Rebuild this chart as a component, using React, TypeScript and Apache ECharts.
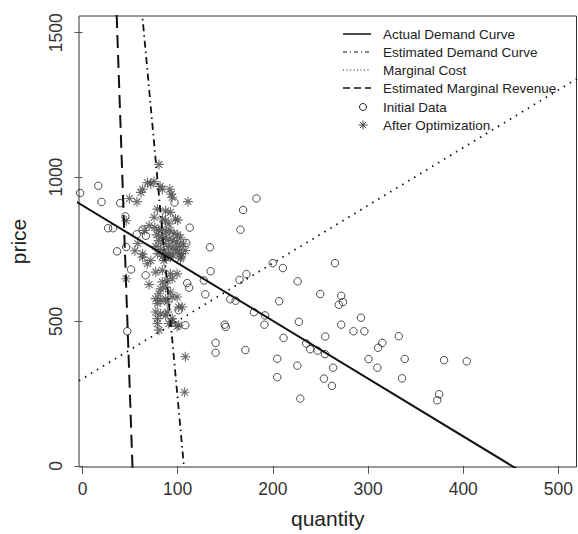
import React, { useEffect, useRef } from 'react';
import * as echarts from 'echarts';

const xTicks = [0, 100, 200, 300, 400, 500];
const yTicks = [0, 500, 1000, 1500];

// line endpoints [quantity, price]
const actualDemand = [[-10, 922], [470, -38]];
const estimatedDemand = [[58.9, 1700], [109.3, -100]];
const marginalCost = [[-10, 282], [540, 1382]];
const estimatedMR = [[34.4, 1700], [53.5, -100]];

const initialData = [
  [-2.5, 945], [16.6, 970], [20, 914], [39.6, 910], [45, 864], [26.9, 823], [32.1, 823],
  [45.9, 758], [36.3, 743], [57, 802], [63.1, 818], [66.6, 797], [112.6, 825], [51, 680],
  [66.3, 660], [110, 633], [112, 617], [127.5, 642], [129, 594], [96.6, 912], [109, 772],
  [108, 487], [47, 466], [101, 539],
  [182.8, 926], [168.7, 886], [165.9, 818], [133.9, 757], [134.6, 674], [164.9, 644],
  [172.2, 664], [199.8, 702], [210.5, 685], [265.3, 702], [226, 639], [249.8, 595],
  [269.3, 558], [273.6, 567], [271.8, 589], [271.8, 489], [155.3, 577], [160.8, 572],
  [206.6, 570], [180.1, 532], [191.8, 521], [191.1, 489], [149.4, 489], [150.4, 481],
  [139.8, 426], [139.8, 392], [171.1, 401], [227.3, 499], [211.2, 443], [235, 424],
  [239.1, 404], [247, 399], [254.7, 387], [255, 448], [204.6, 371], [204.6, 307],
  [225.7, 347], [263.3, 340], [253.6, 302], [262, 277], [228.8, 233],
  [292.6, 513], [284.7, 466], [296.1, 466], [332.3, 449], [315, 426], [310.6, 409],
  [300.5, 370], [309.8, 340], [338.5, 370], [335.7, 303], [379.9, 366], [403.7, 362],
  [374.7, 248], [372.7, 227],
];

const afterOptimization = [
  [80.3, 1044], [75.2, 985], [71.7, 976], [68.3, 981], [63.1, 958], [61.4, 947], [81.4, 968],
  [83.9, 958], [91.7, 958], [93.2, 941], [94.2, 930], [110.8, 915], [49.3, 926], [57.2, 915],
  [45.9, 849], [78.7, 889], [87.3, 883], [92.4, 878], [97.6, 855], [100, 851], [75.2, 861],
  [83.9, 855], [87.3, 849], [90.7, 838], [70, 832], [64.8, 815],
  [76, 825], [80, 815], [84, 820], [88, 810], [92, 815], [96, 805], [100, 800], [78, 800],
  [83, 795], [87, 790], [91, 785], [95, 780], [99, 775], [103, 790], [80, 780], [85, 770],
  [90, 760], [94, 755], [98, 750], [102, 760], [77, 760], [82, 750], [86, 740], [90, 735],
  [95, 730], [100, 740], [104, 735], [79, 735], [84, 725], [88, 720],
  [63.1, 734], [106.2, 769], [108, 746], [103.5, 723], [58, 770], [68, 700], [55, 745],
  [45.9, 648], [70, 628], [63.1, 723], [71.7, 711], [85.5, 711], [92.4, 723], [102.8, 717],
  [76.9, 671], [83.9, 677], [92.4, 665], [99.4, 665], [83.9, 637], [89, 642], [94.2, 648],
  [87.3, 619], [92.4, 602], [82.1, 613], [80.3, 596], [76.9, 579], [82.1, 573], [87.3, 579],
  [94.2, 585], [99.4, 585], [78.7, 562], [89, 568], [101, 550], [104.6, 550], [76.9, 533],
  [82.1, 527], [89, 533], [78.7, 510], [87.3, 521], [94.2, 510], [90.7, 493], [94.2, 499],
  [78.7, 493], [80.3, 470], [101, 487], [99.4, 483], [108, 378], [107.3, 255],
];

const legendLabels = [
  'Actual Demand Curve',
  'Estimated Demand Curve',
  'Marginal Cost',
  'Estimated Marginal Revenue',
  'Initial Data',
  'After Optimization',
];

const FONT = '"Liberation Sans", Arial, Helvetica, sans-serif';
const ASTERISK = 'path://M5,0L5,10M0,5L10,5M1.6,1.6L8.4,8.4M1.6,8.4L8.4,1.6';

function asteriskGraphic(cx: number, cy: number, r: number, color: string) {
  const d = r * 0.7;
  const segs = [
    [cx, cy - r, cx, cy + r],
    [cx - r, cy, cx + r, cy],
    [cx - d, cy - d, cx + d, cy + d],
    [cx - d, cy + d, cx + d, cy - d],
  ];
  return segs.map((s) => ({
    type: 'line',
    shape: { x1: s[0], y1: s[1], x2: s[2], y2: s[3] },
    style: { stroke: color, lineWidth: 1 },
  }));
}

export default function App() {
  const ref = useRef<HTMLDivElement>(null);
  useEffect(() => {
    if (!ref.current) return;
    const chart = echarts.init(ref.current, null, { renderer: 'svg' });
    const rowY = [34, 52, 70, 88, 107, 125];
    const lx1 = 343;
    const lx2 = 371;
    const tx = 383;
    const graphics: any[] = [];
    const lineStyles = [
      { lineDash: null, lineWidth: 1.5 },
      { lineDash: [4, 3, 1, 3], lineWidth: 1.2 },
      { lineDash: [1, 2.5], lineWidth: 1.2 },
      { lineDash: [7, 4], lineWidth: 1.5 },
    ];
    lineStyles.forEach((ls, i) => {
      graphics.push({
        type: 'line',
        shape: { x1: lx1, y1: rowY[i], x2: lx2, y2: rowY[i] },
        style: { stroke: '#111', lineWidth: ls.lineWidth, lineDash: ls.lineDash || undefined },
      });
    });
    graphics.push({
      type: 'circle',
      shape: { cx: 363, cy: rowY[4], r: 3.5 },
      style: { fill: 'none', stroke: '#222', lineWidth: 1 },
    });
    graphics.push(...asteriskGraphic(363, rowY[5], 4.5, '#444'));
    legendLabels.forEach((t, i) => {
      graphics.push({
        type: 'text',
        x: tx,
        y: rowY[i],
        style: {
          text: t,
          font: `13.5px ${FONT}`,
          fill: '#222',
          textVerticalAlign: 'middle',
          verticalAlign: 'middle',
        },
      });
    });

    chart.setOption({
      animation: false,
      grid: {
        left: 72,
        right: 1.5,
        top: 16,
        bottom: 65,
        show: true,
        borderColor: '#333',
        borderWidth: 1,
        backgroundColor: 'transparent',
      },
      xAxis: {
        type: 'value',
        min: -3.7,
        max: 519,
        name: 'quantity',
        nameLocation: 'middle',
        nameGap: 41,
        nameTextStyle: { fontSize: 21, color: '#222', fontFamily: FONT },
        axisLine: { show: false },
        splitLine: { show: false },
        axisTick: {
          show: true,
          length: 8,
          lineStyle: { color: '#555' },
          customValues: xTicks,
        },
        axisLabel: {
          fontSize: 17.5,
          color: '#333',
          fontFamily: FONT,
          margin: 13,
          customValues: xTicks,
          formatter: (v: number) => String(v),
        },
      },
      yAxis: {
        type: 'value',
        min: -4,
        max: 1558,
        name: 'price',
        nameLocation: 'middle',
        nameGap: 50,
        nameRotate: 90,
        nameTextStyle: { fontSize: 21, color: '#222', fontFamily: FONT },
        axisLine: { show: false },
        splitLine: { show: false },
        axisTick: {
          show: true,
          length: 8,
          lineStyle: { color: '#555' },
          customValues: yTicks,
        },
        axisLabel: {
          fontSize: 17.5,
          color: '#333',
          fontFamily: FONT,
          rotate: 90,
          margin: 14,
          customValues: yTicks,
          formatter: (v: number) => String(v),
        },
      },
      graphic: graphics,
      series: [
        {
          type: 'scatter',
          data: initialData,
          symbol: 'circle',
          symbolSize: 7.5,
          itemStyle: { color: 'rgba(0,0,0,0)', borderColor: '#222', borderWidth: 1 },
          z: 2,
        },
        {
          type: 'scatter',
          data: afterOptimization,
          symbol: ASTERISK,
          symbolSize: 10,
          itemStyle: { color: 'rgba(0,0,0,0)', borderColor: '#4a4a4a', borderWidth: 1.1 },
          z: 3,
        },
        {
          type: 'line',
          data: actualDemand,
          symbol: 'none',
          clip: true,
          lineStyle: { color: '#111', width: 2 },
          z: 4,
        },
        {
          type: 'line',
          data: estimatedDemand,
          symbol: 'none',
          clip: true,
          lineStyle: { color: '#111', width: 1.8, type: [7, 4, 1.5, 4] },
          z: 4,
        },
        {
          type: 'line',
          data: marginalCost,
          symbol: 'none',
          clip: true,
          lineStyle: { color: '#111', width: 1.8, type: [1.5, 5.5] },
          z: 4,
        },
        {
          type: 'line',
          data: estimatedMR,
          symbol: 'none',
          clip: true,
          lineStyle: { color: '#111', width: 2, type: [13, 7] },
          z: 4,
        },
      ],
    });
    return () => chart.dispose();
  }, []);
  return (
    <div
      ref={ref}
      style={{ position: 'fixed', left: 0, top: 0, width: 578, height: 534, background: '#fff' }}
    />
  );
}
